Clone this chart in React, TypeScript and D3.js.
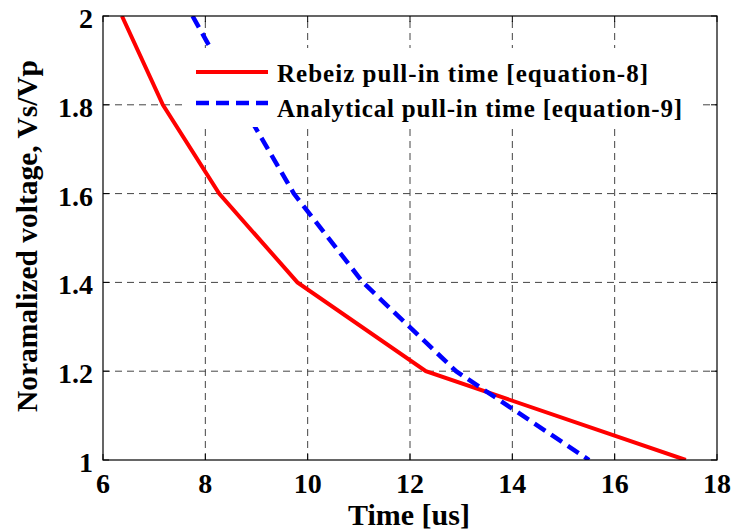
import React from "react";
import * as d3 from "d3";

const xTicks = [6, 8, 10, 12, 14, 16, 18];
const yTicks = [1, 1.2, 1.4, 1.6, 1.8, 2];
const voltage = [2, 1.8, 1.6, 1.4, 1.2, 1.0];
const rebeizTime = [6.37, 7.17, 8.27, 9.8, 12.31, 17.39];
const analyticalTime = [7.75, 8.72, 9.73, 11.08, 12.9, 15.5];
const seriesNames = ["Rebeiz pull-in time [equation-8]", "Analytical pull-in time [equation-9]"];
const xLabel = "Time [us]";
const yLabel = "Noramalized voltage, Vs/Vp";

const W = 735;
const H = 532;
const L = 103, R = 717, T = 16, B = 460;
const FONT = '"Liberation Serif", "Times New Roman", Tinos, serif';

export default function App() {
  const x = d3.scaleLinear().domain([6, 18]).range([L, R]);
  const y = d3.scaleLinear().domain([1, 2]).range([B, T]);
  const line = d3
    .line<[number, number]>()
    .x((d) => x(d[0]))
    .y((d) => y(d[1]));
  const redPts: [number, number][] = rebeizTime.map((t, i) => [t, voltage[i]]);
  const bluePts: [number, number][] = analyticalTime.map((t, i) => [t, voltage[i]]);

  return (
    <svg
      width={W}
      height={H}
      style={{ position: "absolute", left: 0, top: 0, background: "#fff", fontFamily: FONT }}
    >
      <rect x={0} y={0} width={W} height={H} fill="#fff" />
      <defs>
        <clipPath id="plot">
          <rect x={L} y={T} width={R - L} height={B - T} />
        </clipPath>
      </defs>
      {/* grid */}
      <g stroke="#444" strokeWidth={1} strokeDasharray="7,5">
        {xTicks.slice(1, -1).map((t) => (
          <line key={"gx" + t} x1={x(t)} x2={x(t)} y1={B} y2={T} />
        ))}
        {yTicks.slice(1, -1).map((t) => (
          <line key={"gy" + t} x1={L} x2={R} y1={y(t)} y2={y(t)} />
        ))}
      </g>
      {/* inward ticks */}
      <g stroke="#000" strokeWidth={1}>
        {xTicks.map((t) => (
          <g key={"tx" + t}>
            <line x1={x(t)} x2={x(t)} y1={B} y2={B - 6} />
            <line x1={x(t)} x2={x(t)} y1={T} y2={T + 6} />
          </g>
        ))}
        {yTicks.map((t) => (
          <g key={"ty" + t}>
            <line x1={L} x2={L + 6} y1={y(t)} y2={y(t)} />
            <line x1={R} x2={R - 6} y1={y(t)} y2={y(t)} />
          </g>
        ))}
      </g>
      {/* data */}
      <g clipPath="url(#plot)" fill="none">
        <path d={line(redPts) || ""} stroke="#ff0000" strokeWidth={4} strokeLinejoin="miter" />
        <path d={line(bluePts) || ""} stroke="#0000ff" strokeWidth={4.5} strokeDasharray="13,7" />
      </g>
      {/* legend */}
      <rect x={182} y={48} width={518} height={79} fill="#fff" />
      <line x1={196} x2={268} y1={72} y2={72} stroke="#ff0000" strokeWidth={4} />
      <line x1={196} x2={268} y1={103} y2={103} stroke="#0000ff" strokeWidth={4.5} strokeDasharray="13,7" />
      <text x={277} y={82} fontSize={25} fontWeight="bold" textLength={371} lengthAdjust="spacing" style={{ fontFamily: FONT }}>
        {seriesNames[0]}
      </text>
      <text x={277} y={117} fontSize={25} fontWeight="bold" textLength={405} lengthAdjust="spacing" style={{ fontFamily: FONT }}>
        {seriesNames[1]}
      </text>
      {/* frame */}
      <rect x={L} y={T} width={R - L} height={B - T} fill="none" stroke="#000" strokeWidth={1.2} />
      {/* tick labels */}
      <g fontSize={28} fontWeight="bold" fill="#000" style={{ fontFamily: FONT }}>
        {xTicks.map((t) => (
          <text key={"lx" + t} x={x(t)} y={493} textAnchor="middle">
            {d3.format("d")(t)}
          </text>
        ))}
        {yTicks.map((t) => (
          <text key={"ly" + t} x={93} y={y(t) + 12} textAnchor="end">
            {t === 1 || t === 2 ? d3.format("d")(t) : d3.format(".1f")(t)}
          </text>
        ))}
      </g>
      {/* axis labels */}
      <text x={(L + R) / 2 - 1} y={525} fontSize={30} fontWeight="bold" textAnchor="middle" style={{ fontFamily: FONT }}>
        {xLabel}
      </text>
      <text
        transform={`translate(37, ${(T + B) / 2 - 2}) rotate(-90)`}
        fontSize={30}
        fontWeight="bold"
        textAnchor="middle"
        textLength={352}
        lengthAdjust="spacingAndGlyphs"
        style={{ fontFamily: FONT }}
      >
        {yLabel}
      </text>
    </svg>
  );
}
